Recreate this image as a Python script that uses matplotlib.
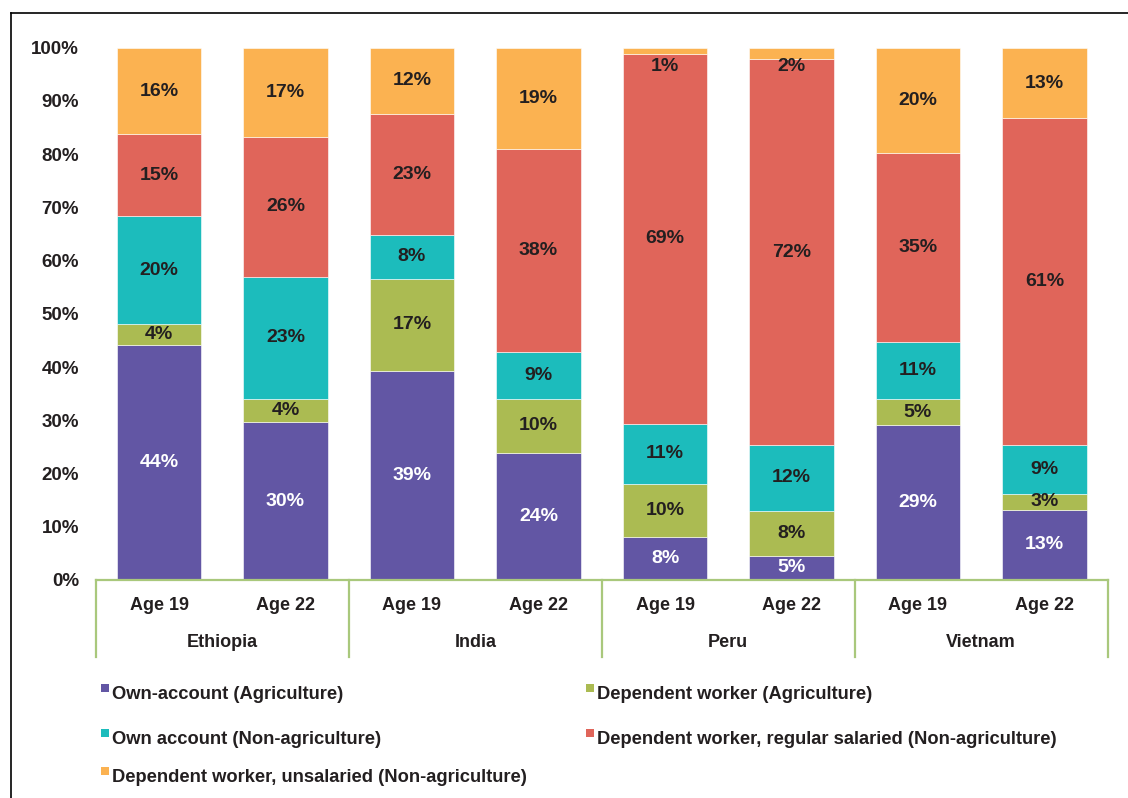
import matplotlib
matplotlib.use("Agg")
import matplotlib.pyplot as plt
from matplotlib.patches import Rectangle
from matplotlib.lines import Line2D

# shares of employment type (%), by country and age round
countries = ["Ethiopia", "India", "Peru", "Vietnam"]
ages = ["Age 19", "Age 22"]
series_names = [
    "Own-account (Agriculture)",
    "Dependent worker (Agriculture)",
    "Own account (Non-agriculture)",
    "Dependent worker, regular salaried (Non-agriculture)",
    "Dependent worker, unsalaried (Non-agriculture)",
]
own_agri = [44.2, 29.6, 39.3, 23.9, 8.1, 4.6, 29.1, 13.2]
dep_agri = [3.8, 4.4, 17.3, 10.1, 9.9, 8.4, 4.9, 3.0]
own_nonagri = [20.4, 23.0, 8.2, 8.9, 11.4, 12.4, 10.8, 9.1]
dep_salaried = [15.3, 26.3, 22.8, 38.1, 69.4, 72.4, 35.4, 61.4]
dep_unsalaried = [16.3, 16.7, 12.4, 19.0, 1.2, 2.2, 19.8, 13.3]

colors = ["#6256A4", "#ABBB52", "#1CBCBC", "#E0655A", "#FBB251"]
text_dark = "#231F20"
line_green = "#A9C87C"

fam = ["Liberation Sans Narrow", "Liberation Sans", "DejaVu Sans"]

W, H = 1128, 798
fig = plt.figure(figsize=(W / 100, H / 100), dpi=100)

def fx(px):
    return px / W

def fy(py):
    return 1 - py / H

ax = fig.add_axes([fx(95.75), fy(580), fx(1107.75) - fx(95.75), fy(47.7) - fy(580)])

series = [own_agri, dep_agri, own_nonagri, dep_salaried, dep_unsalaried]
x = list(range(len(own_agri)))
bottom = [0.0] * len(x)
for k, vals in enumerate(series):
    ax.bar(x, vals, width=0.67, bottom=bottom, color=colors[k],
           edgecolor="white", linewidth=0.4)
    for i, v in enumerate(vals):
        top = bottom[i] + v
        yc = bottom[i] + v / 2
        if v < 3 and k == len(series) - 1:
            yc = top - 3.5
        ax.text(i, yc, f"{round(v):.0f}%", ha="center", va="center",
                fontsize=14, fontweight="bold", family=fam,
                color="white" if k == 0 else text_dark)
    bottom = [b + v for b, v in zip(bottom, vals)]

ax.set_xlim(-0.5, 7.5)
ax.set_ylim(0, 100)
ax.set_yticks(range(0, 101, 10))
ax.set_yticklabels([f"{t}%" for t in range(0, 101, 10)],
                   fontsize=13.5, fontweight="bold", family=fam, color=text_dark)
ax.tick_params(axis="y", length=0, pad=12)
ax.set_xticks([])
for s in ax.spines.values():
    s.set_visible(False)

# two-level category axis
tr = ax.get_xaxis_transform()
ax.plot([-0.5, 7.5], [0, 0], color=line_green, lw=1.6, transform=tr, clip_on=False)
for xb in [-0.5, 1.5, 3.5, 5.5, 7.5]:
    ax.plot([xb, xb], [0, -0.145], color=line_green, lw=1.6, transform=tr, clip_on=False)
for i in x:
    ax.text(i, -0.047, ages[i % 2], ha="center", va="center", transform=tr,
            fontsize=13, fontweight="bold", family=fam, color=text_dark)
for g, name in enumerate(countries):
    ax.text(2 * g + 0.5, -0.118, name, ha="center", va="center", transform=tr,
            fontsize=13, fontweight="bold", family=fam, color=text_dark)

# legend laid out row by row
legend_pos = [(101, 699), (586, 699), (101, 744), (586, 744), (101, 782)]
for k, (lx, ly) in enumerate(legend_pos):
    fig.add_artist(Rectangle((fx(lx), fy(ly - 7)), fx(8), fy(0) - fy(8),
                             transform=fig.transFigure, color=colors[k], lw=0))
    fig.text(fx(lx + 11), fy(ly), series_names[k], ha="left", va="baseline",
             fontsize=13.2, fontweight="bold", family=fam, color=text_dark)

# outer frame
fig.add_artist(Line2D([fx(11), fx(11)], [fy(13), 0], color="black", lw=1.2,
                      transform=fig.transFigure))
fig.add_artist(Line2D([fx(11), 1], [fy(13), fy(13)], color="black", lw=1.2,
                      transform=fig.transFigure))

fig.savefig("out.png", dpi=100)
